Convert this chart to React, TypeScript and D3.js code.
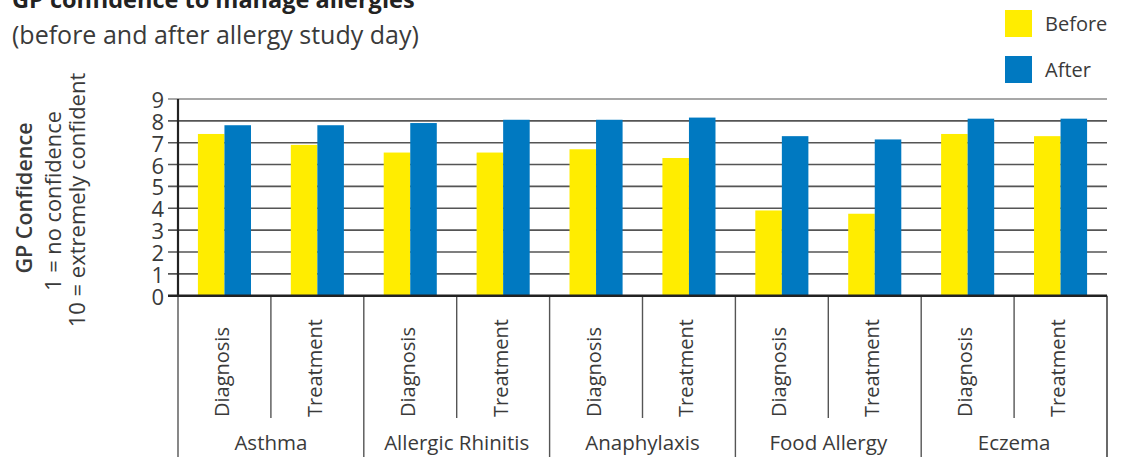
import React from "react";
import * as d3 from "d3";

const groups = ["Asthma", "Allergic Rhinitis", "Anaphylaxis", "Food Allergy", "Eczema"];
const subTypes = ["Diagnosis", "Treatment"];
const seriesNames = ["Before", "After"];
const beforeValues = [7.4, 6.9, 6.55, 6.55, 6.7, 6.3, 3.9, 3.75, 7.4, 7.3];
const afterValues = [7.8, 7.8, 7.9, 8.05, 8.05, 8.15, 7.3, 7.15, 8.1, 8.1];
const yTicks = [0, 1, 2, 3, 4, 5, 6, 7, 8, 9];
const seriesColors = ["#FFED00", "#0079C1"];

const W = 1122;
const H = 457;
const FONT = "'Open Sans', 'Noto Sans', sans-serif";
const TXT = "#3a3a3a";

export default function App() {
  const left = 178;
  const right = 1107;
  const y0 = 295.7;
  const yTop = 99;

  const y = d3.scaleLinear().domain([0, 9]).range([y0, yTop]);
  const keys: string[] = [];
  groups.forEach((g) => subTypes.forEach((s) => keys.push(g + "|" + s)));
  const xSub = d3.scaleBand<string>().domain(keys).range([left, right]).padding(0);
  const xGroup = d3.scaleBand<string>().domain(groups).range([left, right]).padding(0);
  const xSeries = d3
    .scaleBand<string>()
    .domain(seriesNames)
    .range([0, xSub.bandwidth()])
    .paddingInner(0)
    .paddingOuter(0.75);

  const valuesBySeries = [beforeValues, afterValues];

  return (
    <div style={{ position: "absolute", left: 0, top: 0 }}>
      <svg width={W} height={H} style={{ display: "block", fontFamily: FONT }}>
        <rect width={W} height={H} fill="#fff" />
        {/* titles */}
        <text x={12} y={8} fontSize={23.5} fontWeight={700} fill="#222">
          GP confidence to manage allergies
        </text>
        <text x={12} y={44} fontSize={25} fill={TXT}>
          (before and after allergy study day)
        </text>

        {/* legend */}
        {seriesNames.map((s, i) => (
          <g key={s}>
            <rect x={1005} y={10 + i * 46} width={27} height={27} fill={seriesColors[i]} />
            <text x={1045} y={23.5 + i * 46} fontSize={20} fill={TXT} dominantBaseline="central">
              {s}
            </text>
          </g>
        ))}

        {/* y title */}
        <text transform={`translate(32,198) rotate(-90)`} textAnchor="middle" fontSize={21.5} fontWeight={600} fill={TXT}>
          GP Confidence
        </text>
        <text transform={`translate(61,201) rotate(-90)`} textAnchor="middle" fontSize={21.8} fill={TXT}>
          1 = no confidence
        </text>
        <text transform={`translate(85,200) rotate(-90)`} textAnchor="middle" fontSize={22} fill={TXT}>
          10 = extremely confident
        </text>

        {/* gridlines + tick labels */}
        {yTicks.map((t) => (
          <g key={t}>
            {t > 0 && (
              <line x1={168} x2={right} y1={y(t)} y2={y(t)} stroke={t === 9 ? "#8a8a8a" : "#555"} strokeWidth={1.6} />
            )}
            <text x={164} y={y(t)} textAnchor="end" dominantBaseline="central" fontSize={22} fill={TXT}>
              {t}
            </text>
          </g>
        ))}

        {/* bars */}
        {keys.map((k, i) => (
          <g key={k}>
            {seriesNames.map((s, j) => (
              <rect
                key={s}
                x={(xSub(k) as number) + (xSeries(s) as number)}
                y={y(valuesBySeries[j][i])}
                width={xSeries.bandwidth()}
                height={y0 - y(valuesBySeries[j][i])}
                fill={seriesColors[j]}
              />
            ))}
          </g>
        ))}

        {/* category dividers */}
        {keys.map((k, i) =>
          i % 2 === 1 ? (
            <line key={k} x1={xSub(k)} x2={xSub(k)} y1={y0} y2={418} stroke="#555" strokeWidth={1.4} />
          ) : null
        )}
        {groups.map((g, i) =>
          i > 0 ? (
            <line key={g} x1={xGroup(g)} x2={xGroup(g)} y1={y0} y2={H} stroke="#555" strokeWidth={1.4} />
          ) : null
        )}
        <line x1={right} x2={right} y1={y0} y2={H} stroke="#444" strokeWidth={1.6} />
        <line x1={left} x2={left} y1={y0} y2={H} stroke="#555" strokeWidth={1.4} />

        {/* axes */}
        <line x1={left} x2={left} y1={yTop} y2={y0} stroke="#222" strokeWidth={2.2} />
        <line x1={168} x2={right} y1={y0} y2={y0} stroke="#222" strokeWidth={2.6} />

        {/* sub labels */}
        {keys.map((k, i) => {
          const cx = (xSub(k) as number) + xSub.bandwidth() / 2 - 3;
          return (
            <text
              key={k}
              transform={`translate(${cx},417) rotate(-90)`}
              textAnchor="start"
              dominantBaseline="central"
              fontSize={20}
              fill={TXT}
            >
              {subTypes[i % 2]}
            </text>
          );
        })}

        {/* group labels */}
        {groups.map((g) => (
          <text key={g} x={(xGroup(g) as number) + xGroup.bandwidth() / 2} y={450} textAnchor="middle" fontSize={20.5} fill={TXT}>
            {g}
          </text>
        ))}
      </svg>
    </div>
  );
}
